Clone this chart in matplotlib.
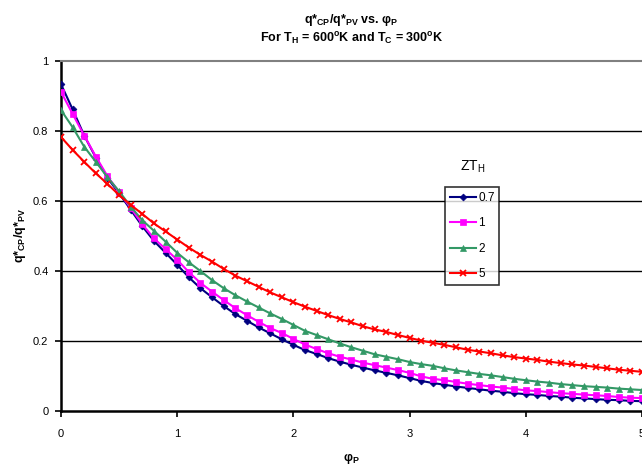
import numpy as np
import matplotlib
matplotlib.use("Agg")
import matplotlib.pyplot as plt

plt.rcParams['font.family'] = ['Liberation Sans', 'DejaVu Sans']
plt.rcParams['mathtext.fontset'] = 'custom'
plt.rcParams['mathtext.rm'] = 'Liberation Sans'
plt.rcParams['mathtext.bf'] = 'Liberation Sans:bold'

# phi_P values, step 0.1
phi = [round(0.1 * i, 1) for i in range(51)]

# ZT_H = 0.7
zt_07 = [0.934, 0.862, 0.787, 0.724, 0.666, 0.622, 0.575, 0.528, 0.486, 0.452,
         0.418, 0.382, 0.351, 0.325, 0.300, 0.277, 0.258, 0.239, 0.222, 0.205,
         0.189, 0.174, 0.163, 0.151, 0.141, 0.132, 0.124, 0.116, 0.109, 0.102,
         0.094, 0.086, 0.080, 0.075, 0.070, 0.066, 0.062, 0.058, 0.055, 0.051,
         0.048, 0.046, 0.043, 0.041, 0.038, 0.036, 0.034, 0.032, 0.031, 0.029,
         0.028]
# ZT_H = 1
zt_1 = [0.912, 0.849, 0.787, 0.727, 0.671, 0.625, 0.580, 0.534, 0.493, 0.463,
        0.432, 0.397, 0.366, 0.341, 0.317, 0.294, 0.274, 0.255, 0.237, 0.223,
        0.206, 0.190, 0.177, 0.165, 0.155, 0.147, 0.138, 0.131, 0.124, 0.117,
        0.109, 0.099, 0.092, 0.088, 0.083, 0.078, 0.074, 0.070, 0.067, 0.063,
        0.059, 0.057, 0.054, 0.051, 0.049, 0.047, 0.045, 0.043, 0.040, 0.038,
        0.037]
# ZT_H = 2
zt_2 = [0.860, 0.811, 0.755, 0.712, 0.668, 0.628, 0.584, 0.545, 0.515, 0.484,
        0.452, 0.425, 0.400, 0.374, 0.351, 0.331, 0.313, 0.296, 0.279, 0.263,
        0.246, 0.229, 0.217, 0.205, 0.193, 0.182, 0.172, 0.162, 0.155, 0.148,
        0.140, 0.134, 0.129, 0.122, 0.116, 0.111, 0.106, 0.102, 0.097, 0.092,
        0.088, 0.084, 0.081, 0.077, 0.074, 0.071, 0.069, 0.067, 0.064, 0.062,
        0.060]
# ZT_H = 5
zt_5 = [0.783, 0.746, 0.712, 0.679, 0.649, 0.617, 0.589, 0.563, 0.536, 0.513,
        0.490, 0.467, 0.446, 0.427, 0.406, 0.387, 0.371, 0.355, 0.339, 0.325,
        0.311, 0.298, 0.286, 0.274, 0.263, 0.253, 0.242, 0.233, 0.226, 0.217,
        0.209, 0.201, 0.195, 0.189, 0.182, 0.175, 0.170, 0.165, 0.159, 0.154,
        0.150, 0.146, 0.141, 0.137, 0.133, 0.130, 0.126, 0.122, 0.118, 0.115,
        0.112]

labels = ["0.7", "1", "2", "5"]
series = [zt_07, zt_1, zt_2, zt_5]
styles = [("#000080", "D", 3.5), ("#FF00FF", "s", 4.5),
          ("#339966", "^", 5), ("#FF0000", "x", 5)]

fig = plt.figure(figsize=(6.42, 4.66), dpi=100)
ax = fig.add_axes([0.095, 0.118, 0.905, 0.751])

for y in [0.2, 0.4, 0.6, 0.8]:
    ax.axhline(y, color="black", lw=1.0, zorder=1)

for vals, lab, (c, m, ms) in zip(series, labels, styles):
    ax.plot(phi, vals, color=c, marker=m, markersize=ms, lw=1.5,
            markeredgewidth=1.3 if m == "x" else 0.5, label=lab, zorder=3)

ax.set_xlim(0, 5)
ax.set_ylim(0, 1)
ax.set_xticks([0, 1, 2, 3, 4, 5])
ax.set_yticks([0, 0.2, 0.4, 0.6, 0.8, 1])
ax.set_yticklabels(["0", "0.2", "0.4", "0.6", "0.8", "1"])
ax.tick_params(labelsize=8, direction="out", length=4, width=1.2)
ax.tick_params(axis="x", pad=9)
ax.tick_params(axis="y", pad=5)
ax.spines["left"].set_linewidth(1.8)
ax.spines["bottom"].set_linewidth(1.8)
ax.spines["top"].set_color("#808080")
ax.spines["top"].set_linewidth(1.5)
ax.spines["right"].set_visible(False)

ax.set_title("q*$_{\\mathbf{CP}}$/q*$_{\\mathbf{PV}}$ vs. $\\mathbf{\u03c6_P}$\n"
             "For T$_{\\mathbf{H}}$ = 600$^{\\mathbf{o}}$K and T$_{\\mathbf{C}}$ = 300$^{\\mathbf{o}}$K",
             fontsize=9, fontweight="bold", pad=13, linespacing=1.3)
ax.set_xlabel("$\\mathbf{\u03c6_P}$", fontsize=9, fontweight="bold", labelpad=9)
ax.set_ylabel("q*$_{\\mathbf{CP}}$/q*$_{\\mathbf{PV}}$", fontsize=9, fontweight="bold", labelpad=4)

leg = ax.legend(loc="upper left", bbox_to_anchor=(0.661, 0.64), fontsize=8.5,
                frameon=True, fancybox=False, edgecolor="black",
                labelspacing=1.15, handlelength=2.2, handletextpad=0.2,
                borderpad=0.4, borderaxespad=0)
leg.get_frame().set_linewidth(1.2)
leg.set_zorder(5)
ax.text(0.709, 0.697, "ZT$_{\\rm H}$", transform=ax.transAxes, fontsize=10,
        ha="center", va="center")

fig.savefig("out.png", dpi=100)
